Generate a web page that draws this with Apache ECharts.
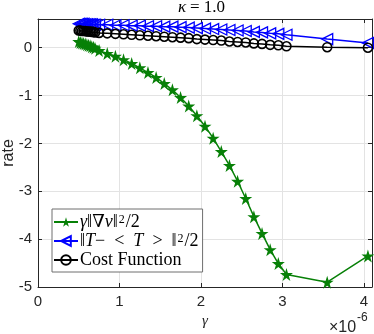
<!DOCTYPE html>
<html>
<head>
<meta charset="utf-8">
<script src="https://cdn.jsdelivr.net/npm/echarts@6/dist/echarts.min.js"></script>
<style>
  html, body { margin: 0; padding: 0; background: #fff; }
  #chart { width: 374px; height: 334px; }
</style>
</head>
<body>
<div id="chart"></div>
<script>
// gamma values, in units of 1e-6
var gammaVals = [0.50, 0.52, 0.54, 0.56, 0.58, 0.60, 0.62, 0.64, 0.66, 0.68, 0.70,
  0.75, 0.85, 0.95, 1.05, 1.15, 1.25, 1.35, 1.45, 1.55, 1.65, 1.75, 1.85, 1.95,
  2.05, 2.15, 2.25, 2.35, 2.45, 2.55, 2.65, 2.75, 2.85, 2.95, 3.05, 3.55, 4.05];

var gradTerm = [0.13, 0.11, 0.10, 0.09, 0.08, 0.06, 0.05, 0.04, 0.02, 0.01, -0.01,
  -0.06, -0.12, -0.18, -0.25, -0.33, -0.42, -0.52, -0.62, -0.75, -0.88, -1.04, -1.22, -1.42,
  -1.64, -1.89, -2.17, -2.46, -2.79, -3.15, -3.53, -3.88, -4.22, -4.51, -4.74, -4.90, -4.35];

var tempTerm = [0.50, 0.50, 0.50, 0.50, 0.49, 0.49, 0.49, 0.49, 0.49, 0.48, 0.48,
  0.48, 0.48, 0.47, 0.47, 0.46, 0.46, 0.45, 0.45, 0.44, 0.44, 0.43, 0.42, 0.41,
  0.40, 0.39, 0.38, 0.37, 0.36, 0.35, 0.33, 0.32, 0.30, 0.29, 0.27, 0.18, 0.10];

var costTerm = [0.36, 0.36, 0.35, 0.35, 0.35, 0.34, 0.34, 0.34, 0.33, 0.33, 0.32,
  0.31, 0.30, 0.29, 0.28, 0.27, 0.26, 0.25, 0.24, 0.23, 0.22, 0.21, 0.20, 0.18,
  0.17, 0.16, 0.15, 0.13, 0.12, 0.11, 0.09, 0.08, 0.06, 0.05, 0.03, 0.01, 0.00];

var seriesNames = ['grad', 'temp', 'cost'];
var xTicks = [0, 1, 2, 3, 4];
var yTicks = [-5, -4, -3, -2, -1, 0];

function pairs(ys) {
  return gammaVals.map(function (x, i) { return [x, ys[i]]; });
}

var starPath = 'path://M50,0 L61,35 L98,35 L68,57 L79,91 L50,70 L21,91 L32,57 L2,35 L39,35 Z';
var axisColor = '#262626';
var serif = '"Liberation Serif", "DejaVu Serif", serif';
var sans = '"Liberation Sans", Arial, sans-serif';

var chart = echarts.init(document.getElementById('chart'), null, { renderer: 'canvas' });

var legendRich = {
  i: { fontFamily: serif, fontStyle: 'italic', fontSize: 18, lineHeight: 16, color: '#000' },
  n: { fontFamily: serif, fontSize: 18, lineHeight: 16, color: '#000' },
  s: { fontFamily: serif, fontSize: 12, lineHeight: 16, color: '#000', verticalAlign: 'top', padding: [0, 1, 7, 1] }
};

var option = {
  animation: false,
  backgroundColor: '#fff',
  grid: { left: 38, right: 2, top: 19, bottom: 47, containLabel: false, outerBoundsMode: 'none' },
  xAxis: [{
    type: 'value', min: 0, max: 4.1, interval: 1,
    axisLine: { show: true, onZero: false, lineStyle: { color: axisColor, width: 1 } },
    axisTick: { show: true, inside: true, length: 4, lineStyle: { color: axisColor } },
    axisLabel: {
      color: axisColor, fontFamily: sans, fontSize: 15, margin: 7,
      formatter: function (v) { return xTicks.indexOf(v) >= 0 ? String(v) : ''; }
    },
    splitLine: { show: true, lineStyle: { color: '#e3e3e3', width: 1 } },
    name: 'γ', nameLocation: 'middle', nameGap: 27,
    nameTextStyle: { fontFamily: serif, fontStyle: 'italic', fontSize: 15, color: axisColor }
  }, {
    type: 'value', min: 0, max: 4.1, interval: 1, position: 'top',
    axisLine: { show: true, onZero: false, lineStyle: { color: axisColor, width: 1 } },
    axisTick: { show: true, inside: true, length: 4, lineStyle: { color: axisColor } },
    axisLabel: { show: false }, splitLine: { show: false }
  }],
  yAxis: [{
    type: 'value', min: -5, max: 0.6, interval: 1,
    axisLine: { show: true, onZero: false, lineStyle: { color: axisColor, width: 1 } },
    axisTick: { show: true, inside: true, length: 4, lineStyle: { color: axisColor } },
    axisLabel: {
      color: axisColor, fontFamily: sans, fontSize: 15, margin: 6,
      formatter: function (v) { return yTicks.indexOf(v) >= 0 ? String(v) : ''; }
    },
    splitLine: { show: true, lineStyle: { color: '#e3e3e3', width: 1 } }
  }, {
    type: 'value', min: -5, max: 0.6, interval: 1, position: 'right',
    axisLine: { show: true, onZero: false, lineStyle: { color: axisColor, width: 1 } },
    axisTick: { show: true, inside: true, length: 4, lineStyle: { color: axisColor } },
    axisLabel: { show: false }, splitLine: { show: false }
  }],
  legend: {
    orient: 'vertical', left: 52, top: 209,
    padding: [4, 4, 3, 1], itemGap: -1, itemWidth: 24, itemHeight: 12,
    backgroundColor: '#fff', borderColor: '#6e6e6e', borderWidth: 1, borderRadius: 0,
    data: seriesNames,
    textStyle: { rich: legendRich, lineHeight: 16, padding: [0, 0, 0, -3] },
    formatter: function (name) {
      if (name === 'grad') return '{i|γ}{n|‖∇}{i|v}{n|‖}{s|2}{n|/2}';
      if (name === 'temp') return '{n|‖}{i|T}{n|−  <  }{i|T}{n|  >  ‖}{s|2}{n|/2}';
      return '{n|Cost Function}';
    }
  },
  graphic: [{
    type: 'text', x: 9, y: 153, rotation: Math.PI / 2,
    style: { text: 'rate', font: '16px ' + sans, fill: axisColor, align: 'center', verticalAlign: 'middle' }
  }, {
    type: 'text', x: 182, y: 8,
    style: { text: 'κ', font: 'italic 17px ' + serif, fill: '#000', align: 'center', verticalAlign: 'middle' }
  }, {
    type: 'text', x: 190, y: 8,
    style: { text: '= 1.0', font: '17px ' + serif, fill: '#000', align: 'left', verticalAlign: 'middle' }
  }, {
    type: 'text', x: 329, y: 328,
    style: { text: '×10', font: '16px ' + sans, fill: axisColor, align: 'left', verticalAlign: 'middle' }
  }, {
    type: 'text', x: 357, y: 318,
    style: { text: '-6', font: '12px ' + sans, fill: axisColor, align: 'left', verticalAlign: 'middle' }
  }],
  series: [{
    name: 'grad', type: 'line', data: pairs(gradTerm),
    symbol: starPath, symbolSize: 13, z: 2,
    itemStyle: { color: '#078007' },
    lineStyle: { color: '#078007', width: 1.5 }
  }, {
    name: 'temp', type: 'line', data: pairs(tempTerm),
    symbol: 'triangle', symbolSize: 11, symbolRotate: 90, z: 3,
    itemStyle: { color: 'rgba(0,0,0,0)', borderColor: '#0000ff', borderWidth: 1.3 },
    lineStyle: { color: '#0000ff', width: 1.5 }
  }, {
    name: 'cost', type: 'line', data: pairs(costTerm),
    symbol: 'circle', symbolSize: 9, z: 4,
    itemStyle: { color: 'rgba(0,0,0,0)', borderColor: '#000', borderWidth: 1.6 },
    lineStyle: { color: '#000', width: 1.5 }
  }]
};

chart.setOption(option);
</script>
</body>
</html>
